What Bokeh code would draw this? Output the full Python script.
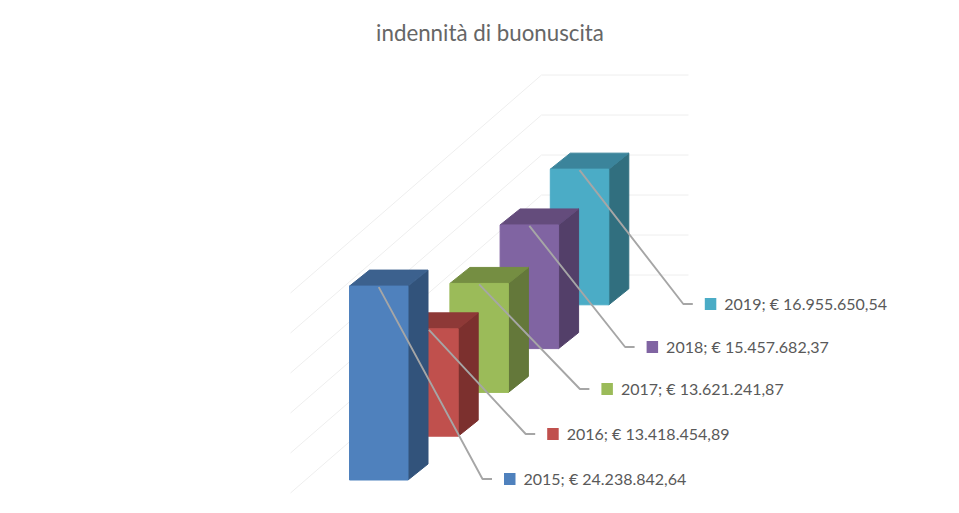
from bokeh.plotting import figure
from bokeh.models import Range1d
from bokeh.core.properties import value
from bokeh.embed import file_html
from bokeh.resources import INLINE

title = "indennità di buonuscita"
years = ["2015", "2016", "2017", "2018", "2019"]
amounts = [24238842.64, 13418454.89, 13621241.87, 15457682.37, 16955650.54]
amount_labels = ["€ 24.238.842,64", "€ 13.418.454,89", "€ 13.621.241,87", "€ 15.457.682,37", "€ 16.955.650,54"]
grid_values = [0, 5000000, 10000000, 15000000, 20000000, 25000000]
front_colors = ["#4F81BD", "#C0504D", "#9BBB59", "#8064A2", "#4BACC6"]
top_colors = ["#3C618E", "#8E3937", "#758E42", "#644C7C", "#3B849B"]
side_colors = ["#32537B", "#7C302E", "#64783A", "#533F69", "#316F7F"]

# Oblique projection, in page pixels
PX_PER_EURO = 8.0 / 1e6
X0, Y0, STEP_X, STEP_Y = 349.0, 480.0, 50.2, -43.8
BAR_W, DEPTH_X, DEPTH_Y = 58.5, 20.0, -16.0
GRID_Y0_FRONT, GRID_X_FRONT = 493.0, 290.0
GRID_Y0_BACK, GRID_X_BACK, GRID_X_RIGHT = 275.0, 541.0, 688.0
ELBOW_DX = [133, 126, 130, 125, 133]
ELBOW_Y = [479, 434, 389, 347, 304]
STUB = 9.5
SWATCH_GAP, SWATCH = 12, 11.5
TEXT_GAP = 8.0


def base(i):
    return X0 + STEP_X * i, Y0 + STEP_Y * i


p = figure(width=943, height=497, output_backend="svg", toolbar_location=None,
           x_range=Range1d(0, 943), y_range=Range1d(497.5, 0.5),
           min_border=0, background_fill_color="white", border_fill_color="white",
           outline_line_color=None)
p.axis.visible = False
p.grid.visible = False

# Gridlines on the floor edge and back wall
for v in grid_values:
    h = v * PX_PER_EURO
    p.line([GRID_X_FRONT, GRID_X_BACK, GRID_X_RIGHT],
           [GRID_Y0_FRONT - h, GRID_Y0_BACK - h, GRID_Y0_BACK - h],
           line_color="#EEEEEE", line_width=1)

# Bars, back to front
for i in reversed(range(len(years))):
    x, y = base(i)
    top = y - amounts[i] * PX_PER_EURO
    r = x + BAR_W
    p.patch([r, r + DEPTH_X, r + DEPTH_X, r], [y, y + DEPTH_Y, top + DEPTH_Y, top],
            fill_color=side_colors[i], line_color=side_colors[i], line_width=1)
    p.patch([x, r, r + DEPTH_X, x + DEPTH_X], [top, top, top + DEPTH_Y, top + DEPTH_Y],
            fill_color=top_colors[i], line_color=top_colors[i], line_width=1)
    p.quad(left=[x], right=[r], top=[top], bottom=[y],
           fill_color=front_colors[i], line_color=front_colors[i], line_width=1)

# Leader lines and labels
for i in range(len(years)):
    x, y = base(i)
    top = y - amounts[i] * PX_PER_EURO
    sx = x + BAR_W / 2
    ex = x + ELBOW_DX[i]
    ey = ELBOW_Y[i]
    p.line([sx, ex, ex + STUB], [top + 1, ey, ey], line_color="#A6A6A6", line_width=1.9)
    lx = ex + STUB + SWATCH_GAP
    p.quad(left=[lx], right=[lx + SWATCH], top=[ey - 6], bottom=[ey + 6],
           fill_color=front_colors[i], line_color=None)
    p.text([lx + SWATCH + TEXT_GAP], [ey - 0.5], text=[f"{years[i]}; {amount_labels[i]}"],
           text_font=value("Lato"), text_font_size="16px", text_color="#595959",
           text_align="left", text_baseline="middle")

p.text([489.5], [32], text=[title], text_font=value("Lato"), text_font_size="22.3px",
       text_color="#666666", text_align="center", text_baseline="middle")

open("out.html", "w").write(file_html(p, INLINE))
